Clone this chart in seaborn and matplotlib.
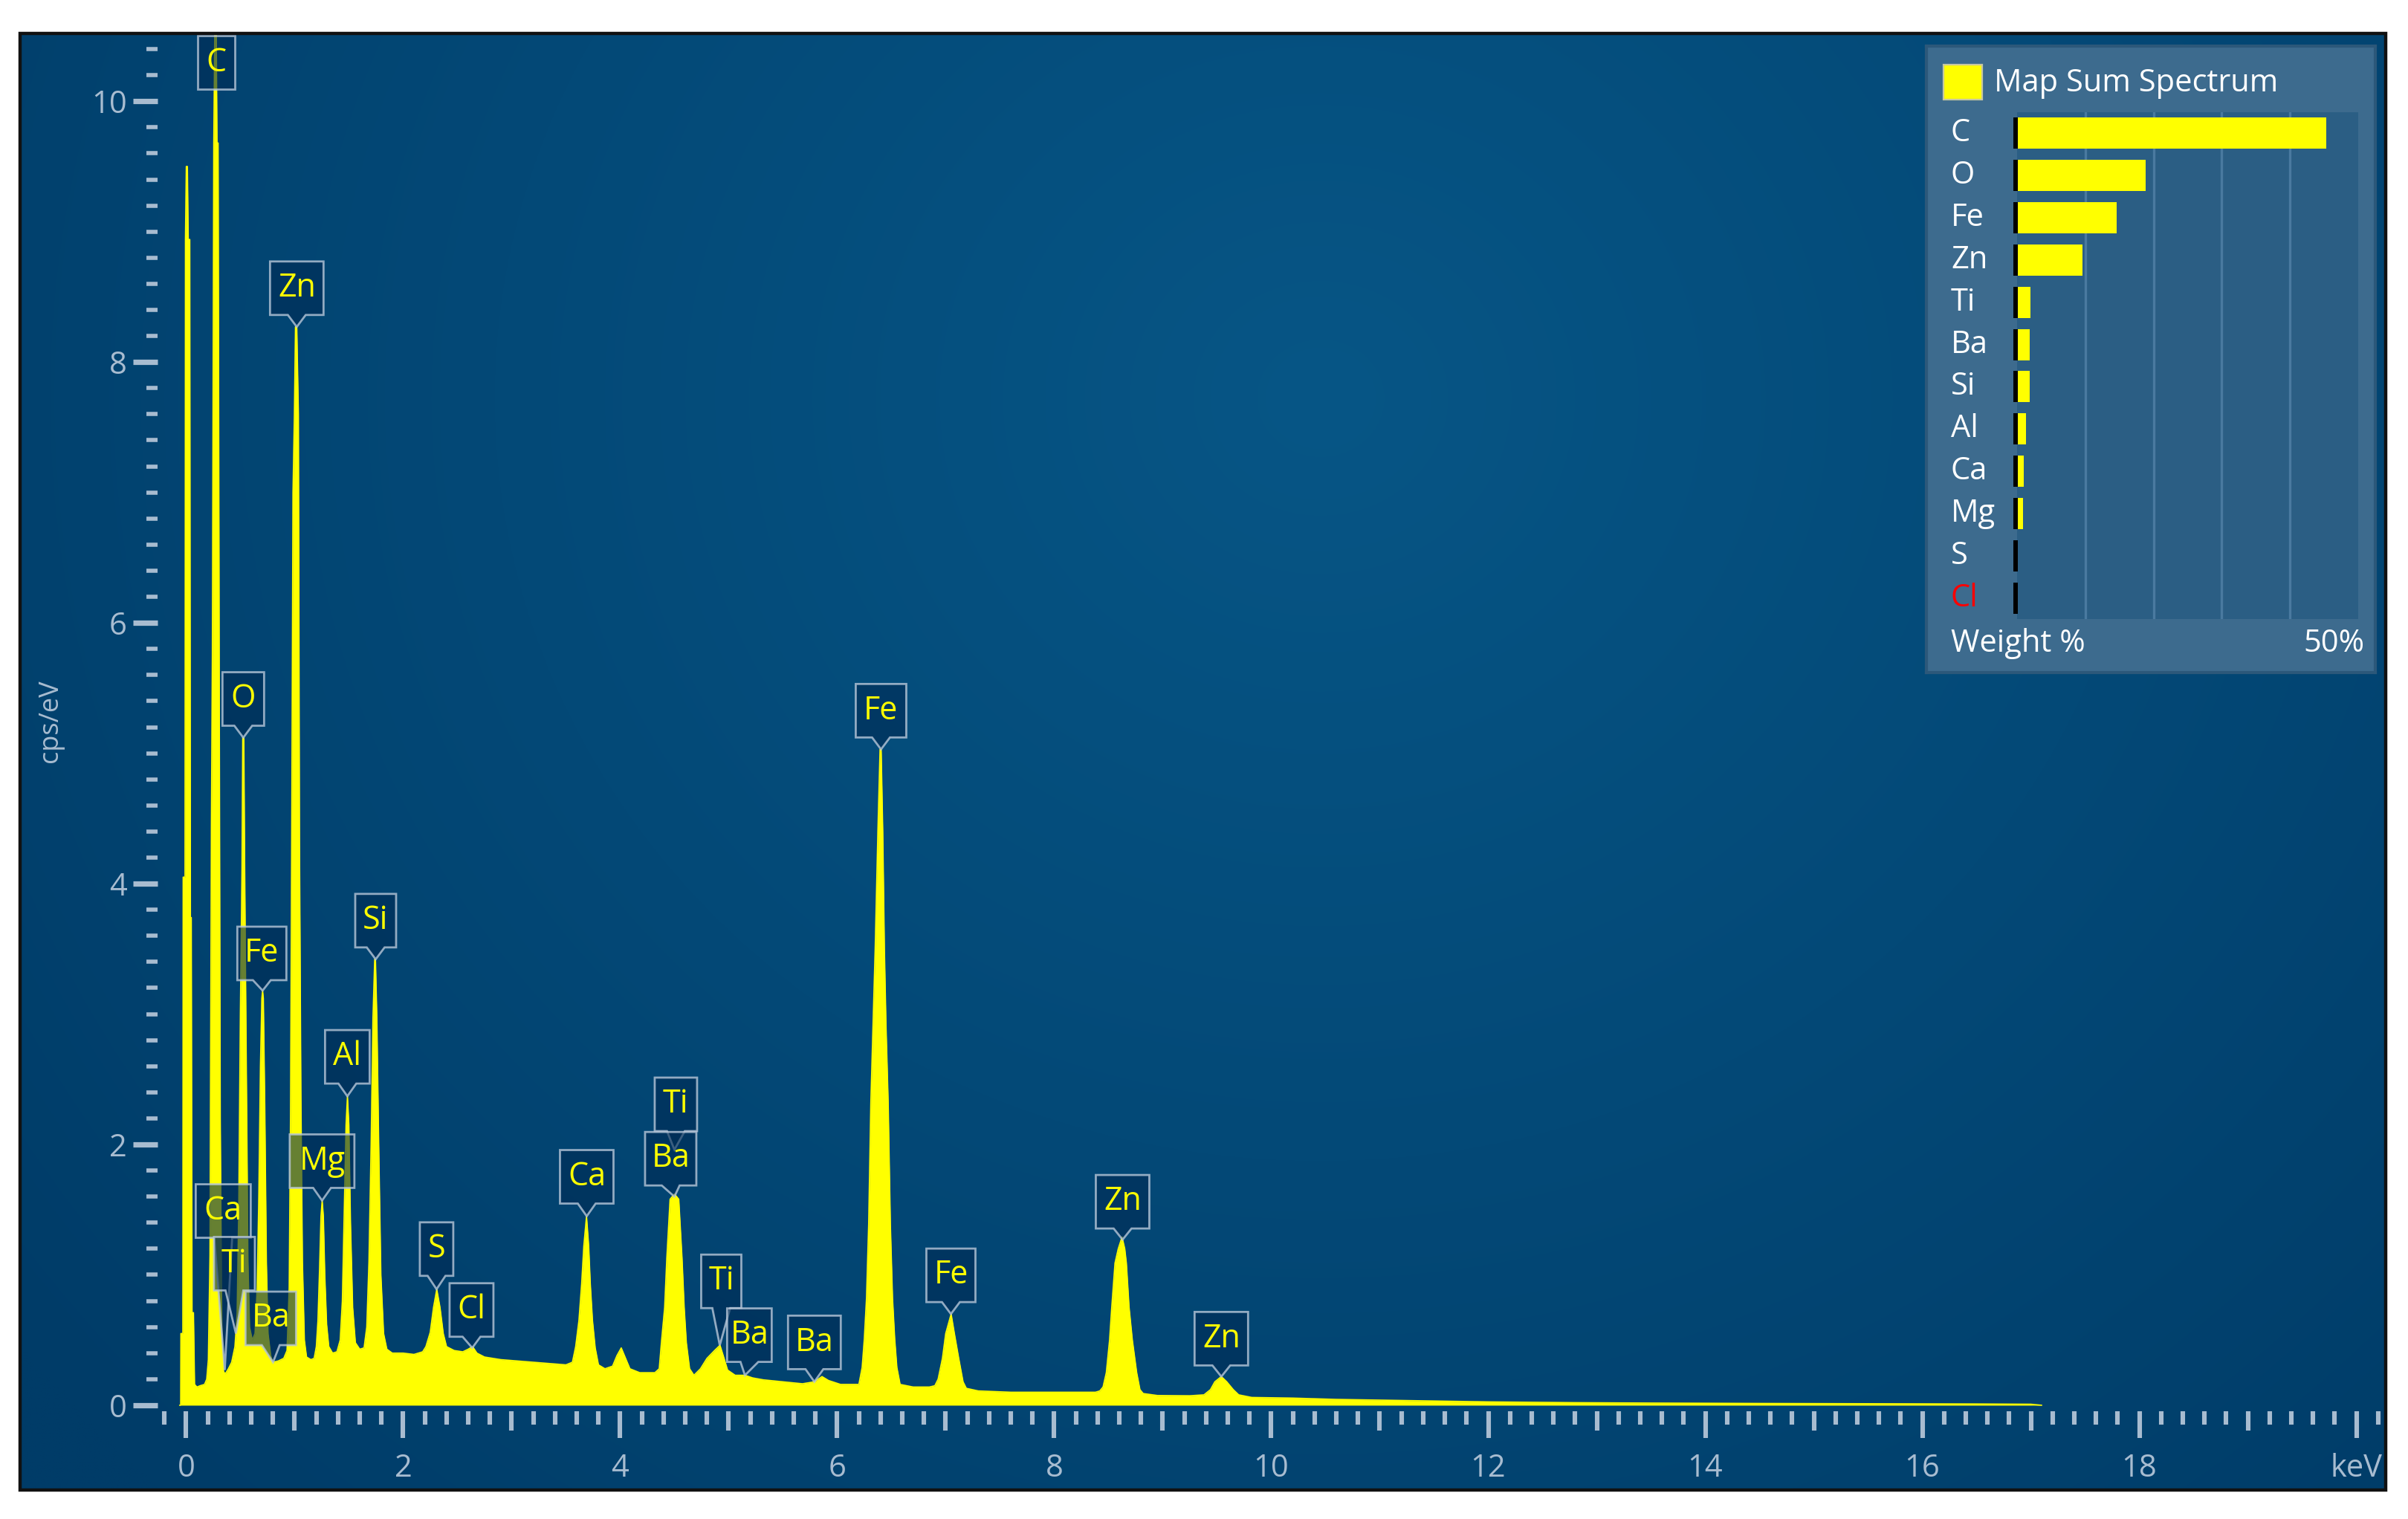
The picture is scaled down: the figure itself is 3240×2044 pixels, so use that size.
import numpy as np
import pandas as pd
import matplotlib
matplotlib.use("Agg")
import matplotlib.pyplot as plt
import matplotlib.transforms as mtransforms
from matplotlib.patches import Polygon, Rectangle
import seaborn as sns

DPI = 200

# EDS spectrum outline (keV, cps/eV)
spec_kev = [
    -0.06, -0.05, -0.048, -0.03, -0.027, -0.01, -0.006, 0.002, 0.012, 0.02, 0.034, 0.04, 0.048, 0.055, 0.068, 0.078,
    0.10, 0.13, 0.17, 0.19, 0.205, 0.22, 0.233, 0.242, 0.255, 0.268, 0.275, 0.285, 0.295, 0.305, 0.315, 0.33, 0.345,
    0.36, 0.39, 0.42, 0.45, 0.47, 0.485, 0.50, 0.515, 0.522, 0.532, 0.54, 0.555, 0.57, 0.585,
    0.61, 0.635, 0.655, 0.67, 0.685, 0.698, 0.705, 0.712, 0.725, 0.74, 0.755,
    0.78, 0.80, 0.85, 0.90, 0.93, 0.95, 0.962, 0.973, 0.985, 0.998, 1.008, 1.02, 1.035, 1.045, 1.058, 1.072, 1.09, 1.11,
    1.15, 1.18, 1.20, 1.215, 1.23, 1.243, 1.254, 1.265, 1.278, 1.295, 1.315,
    1.35, 1.39, 1.42, 1.44, 1.458, 1.474, 1.487, 1.50, 1.515, 1.535, 1.56,
    1.60, 1.64, 1.665, 1.685, 1.705, 1.722, 1.738, 1.745, 1.758, 1.775, 1.795, 1.82, 1.85,
    1.90, 2.00, 2.10, 2.18, 2.21, 2.25, 2.28, 2.31, 2.34, 2.37, 2.40, 2.47, 2.55, 2.60, 2.64, 2.68,
    2.75, 2.90, 3.05, 3.20, 3.35, 3.50, 3.56, 3.59, 3.62, 3.645, 3.665, 3.69, 3.71, 3.725, 3.745, 3.77, 3.80,
    3.86, 3.93, 3.97, 4.01, 4.05, 4.09, 4.18, 4.32, 4.36, 4.38, 4.41, 4.43, 4.46, 4.50, 4.54, 4.57, 4.59, 4.61, 4.64,
    4.68, 4.74, 4.80, 4.87, 4.92, 4.95, 4.99, 5.06, 5.15, 5.22, 5.32, 5.50, 5.68, 5.79, 5.86, 5.92, 6.03, 6.20,
    6.23, 6.25, 6.27, 6.29, 6.31, 6.33, 6.35, 6.375, 6.395, 6.405, 6.42, 6.435, 6.45, 6.47, 6.49, 6.51, 6.53, 6.55, 6.58,
    6.70, 6.85, 6.90, 6.93, 6.97, 7.00, 7.05, 7.08, 7.12, 7.16, 7.19,
    7.30, 7.60, 7.90, 8.20, 8.38, 8.42, 8.45, 8.48, 8.51, 8.53, 8.56, 8.59, 8.625, 8.65, 8.665, 8.69, 8.72, 8.76, 8.79, 8.82,
    8.95, 9.25, 9.38, 9.44, 9.48, 9.54, 9.59, 9.65, 9.70, 9.82, 10.2, 10.6, 11.1, 12.0, 12.8, 13.5, 14.5, 15.5, 16.5, 17.0, 17.1,
]
spec_cps = [
    0.0, 0.0, 0.55, 0.55, 4.05, 4.05, 8.94, 9.5, 9.5, 8.94, 8.94, 3.74, 3.74, 0.71, 0.71, 0.16,
    0.14, 0.15, 0.16, 0.20, 0.35, 1.15, 4.43, 5.76, 9.68, 10.9, 10.9, 9.68, 9.68, 5.76, 2.2, 0.5, 0.26,
    0.24, 0.28, 0.33, 0.45, 0.7, 1.5, 3.0, 4.11, 5.12, 5.12, 4.11, 2.6, 1.1, 0.6,
    0.5, 0.55, 0.9, 1.6, 2.6, 3.12, 3.18, 3.12, 2.3, 1.1, 0.55,
    0.38, 0.33, 0.34, 0.36, 0.42, 0.9, 2.2, 4.32, 7.0, 7.6, 8.27, 8.27, 7.6, 4.32, 2.4, 1.1, 0.5, 0.37,
    0.35, 0.36, 0.45, 0.65, 1.05, 1.45, 1.57, 1.45, 1.0, 0.62, 0.45,
    0.40, 0.41, 0.5, 0.8, 1.5, 2.15, 2.37, 2.15, 1.4, 0.75, 0.48,
    0.43, 0.44, 0.6, 1.1, 2.0, 2.97, 3.42, 3.42, 2.97, 2.0, 1.0, 0.55, 0.43,
    0.40, 0.40, 0.39, 0.41, 0.45, 0.56, 0.75, 0.89, 0.75, 0.55, 0.45, 0.42, 0.41, 0.43, 0.45, 0.40,
    0.37, 0.35, 0.34, 0.33, 0.32, 0.31, 0.33, 0.45, 0.65, 0.93, 1.22, 1.45, 1.22, 0.93, 0.65, 0.44, 0.31,
    0.28, 0.30, 0.38, 0.44, 0.36, 0.28, 0.25, 0.25, 0.28, 0.48, 0.75, 1.13, 1.58, 1.62, 1.58, 1.13, 0.75, 0.48, 0.28,
    0.23, 0.28, 0.36, 0.42, 0.46, 0.38, 0.27, 0.23, 0.23, 0.21, 0.195, 0.18, 0.165, 0.18, 0.22, 0.19, 0.16, 0.16,
    0.29, 0.51, 0.82, 1.39, 2.32, 2.91, 3.5, 4.40, 5.03, 5.03, 4.40, 3.50, 2.91, 2.32, 1.39, 0.82, 0.51, 0.29, 0.16,
    0.14, 0.14, 0.15, 0.20, 0.36, 0.55, 0.70, 0.55, 0.36, 0.18, 0.13,
    0.11, 0.10, 0.10, 0.10, 0.10, 0.11, 0.14, 0.25, 0.50, 0.75, 1.09, 1.20, 1.29, 1.20, 1.09, 0.75, 0.50, 0.25, 0.12, 0.09,
    0.075, 0.073, 0.08, 0.12, 0.18, 0.22, 0.18, 0.12, 0.08, 0.06, 0.055, 0.045, 0.038, 0.026, 0.02, 0.017, 0.014, 0.012, 0.01, 0.008, 0.0,
]

# peak labels: element, pointer tip (keV, cps/eV)
label_text = ["C", "Zn", "O", "Fe", "Si", "Al", "Mg", "Ca", "Ti", "Ba", "S", "Cl",
              "Ca", "Ti", "Ba", "Ti", "Ba", "Ba", "Fe", "Fe", "Zn", "Zn"]
label_kev = [0.28, 1.02, 0.527, 0.705, 1.747, 1.486, 1.253, 0.356, 0.459, 0.801, 2.308, 2.637,
             3.692, 4.50, 4.50, 4.918, 5.15, 5.79, 6.404, 7.048, 8.63, 9.54]
label_cps = [10.09, 8.27, 5.12, 3.18, 3.42, 2.37, 1.57, 0.27, 0.55, 0.33, 0.89, 0.44,
             1.45, 1.96, 1.60, 0.46, 0.23, 0.18, 5.03, 0.70, 1.27, 0.22]
# callout layout in pixels: box centre offset, gap tip->box, box width
label_dx = [0, 0, 0, -1, 0, 0, 0, -2, -2, -3, 0, -1, 0, 2, -5, 2, 6, 0, 0, 0, 0, 0]
label_gap = [0, 16, 16, 14, 16, 17, 17, 178, 58, 23, 18, 15, 17, 25, 15, 50, 18, 17, 16, 16, 15, 15]
label_w = [50, 72, 56, 66, 55, 60, 87, 74, 55, 68, 45, 59, 72, 57, 69, 54, 60, 71, 68, 66, 72, 72]

# weight % panel
wt_elements = ["C", "O", "Fe", "Zn", "Ti", "Ba", "Si", "Al", "Ca", "Mg", "S", "Cl"]
wt_percent = [45.3, 18.8, 14.6, 9.6, 2.0, 1.8, 1.8, 1.3, 1.0, 0.9, 0.1, 0.0]

x_major = list(range(0, 21))
x_labels = [str(v) if v % 2 == 0 else "" for v in x_major]
x_labels[-1] = "keV"
y_major = [0, 2, 4, 6, 8, 10]

sns.set_theme(style="white")
plt.rcParams["font.family"] = ["Open Sans", "DejaVu Sans"]

W, H = 3241, 2044
fig = plt.figure(figsize=(W / DPI, H / DPI), dpi=DPI)
fig.patch.set_facecolor("white")
ax = fig.add_axes([27 / W, 39 / H, 3183 / W, 1960 / H])

# dark blue radial background
gy, gx = np.mgrid[0:1:300j, 0:1:400j]
r = np.sqrt(((gx - 0.55) * 1.5) ** 2 + (gy - 0.75) ** 2)
t = np.clip(r / 1.05, 0, 1)[..., None]
c0 = np.array([7, 86, 134]) / 255
c1 = np.array([0, 60, 104]) / 255
ax.imshow(c0 * (1 - t) + c1 * t, extent=[0, 1, 0, 1], transform=ax.transAxes,
          origin="lower", aspect="auto", zorder=0, interpolation="bilinear")

spec = pd.DataFrame({"keV": spec_kev, "cps": spec_cps})
ax.fill_between(spec["keV"], spec["cps"], 0, color="#ffff00", lw=0, zorder=3)
sns.lineplot(data=spec, x="keV", y="cps", ax=ax, color="#ffff00", lw=0.6,
             estimator=None, sort=False, zorder=3)

ax.set_xlim(-1.53, 20.27)
ax.set_ylim(-0.65, 10.52)
ax.set_xlabel("")
ax.set_ylabel("")

tickc = "#a8bcd0"
for s in ["top", "right"]:
    ax.spines[s].set_visible(False)
ax.spines["left"].set_position(("data", -0.26))
ax.spines["bottom"].set_position(("data", -0.046))
ax.spines["left"].set_color("none")
ax.spines["bottom"].set_color("none")

ax.set_xticks(x_major, x_labels)
ax.set_xticks(np.round(np.arange(-0.2, 20.3, 0.2), 1), minor=True)
ax.set_yticks(y_major, [str(v) for v in y_major])
ax.set_yticks(np.round(np.arange(0.2, 10.5, 0.2), 1), minor=True)
ax.tick_params(axis="both", which="both", bottom=True, left=True, top=False, right=False)
ax.tick_params(axis="x", which="major", direction="out", length=13, width=2.2,
               color=tickc, labelcolor=tickc, labelsize=15, pad=7)
ax.tick_params(axis="x", which="minor", direction="out", length=6.5, width=2.2, color=tickc)
ax.tick_params(axis="y", which="major", direction="out", length=12, width=2.6,
               color=tickc, labelcolor=tickc, labelsize=15, pad=3)
ax.tick_params(axis="y", which="minor", direction="out", length=5.5, width=2.0, color=tickc)
for v, tick in zip(x_major, ax.xaxis.get_major_ticks()):
    if v % 2:
        tick.tick1line.set_markersize(9.4)

ax.text(-1.25, 5.25, "cps/eV", rotation=90, color=tickc, fontsize=13,
        ha="center", va="center")

# outer frame
ax.add_patch(Rectangle((0, 0), 1, 1, transform=ax.transAxes, fill=False,
                       ec="#111111", lw=1.6, clip_on=False, zorder=10))

# peak callouts
box_h = 72
notch = 12
for name, xk, yc, dx, gap, w in zip(label_text, label_kev, label_cps, label_dx, label_gap, label_w):
    trans = fig.dpi_scale_trans + mtransforms.ScaledTranslation(xk, yc, ax.transData)
    bot, top = gap, gap + box_h
    verts = [(dx - w / 2, top), (dx + w / 2, top), (dx + w / 2, bot)]
    if gap > 0:
        verts += [(dx + notch, bot), (0, 0), (dx - notch, bot)]
    verts += [(dx - w / 2, bot)]
    verts = [(a / DPI, b / DPI) for a, b in verts]
    ax.add_patch(Polygon(verts, closed=True, transform=trans,
                         fc=(0.0, 0.17, 0.33, 0.6), ec=(0.72, 0.78, 0.85, 0.8),
                         lw=1.0, zorder=5))
    ax.text(dx / DPI, (gap + box_h / 2) / DPI, name, transform=trans,
            ha="center", va="center", color="#ffff00", fontsize=15.5, zorder=6)

# weight % panel
pax = fig.add_axes([2592 / W, 1 - 905 / H, 604 / W, 843 / H])
pax.set_facecolor("#3d6b8e")
pax.set_xticks([])
pax.set_yticks([])
for s in pax.spines.values():
    s.set_color("#2c587a")
    s.set_linewidth(1.5)

bax = fig.add_axes([2714 / W, 1 - 833 / H, 459 / W, 682 / H])
bax.set_facecolor("#2b5e84")
wdf = pd.DataFrame({"element": wt_elements, "weight": wt_percent})
sns.barplot(data=wdf, x="weight", y="element", orient="h", color="#ffff00",
            saturation=1, width=0.74, ax=bax, zorder=3, linewidth=0)
for v in [10, 20, 30, 40]:
    bax.axvline(v, color="#4a7aa0", lw=1.2, zorder=1)
bax.barh(range(len(wt_elements)), 0.65, left=-0.5, height=0.74, color="black",
         lw=0, edgecolor="none", zorder=4, clip_on=False)
bax.set_xlim(0, 50)
bax.set_ylim(len(wt_elements) - 0.5, -0.5)
bax.set_xticks([])
bax.set_yticks([])
bax.set_xlabel("")
bax.set_ylabel("")
for s in bax.spines.values():
    s.set_visible(False)
blend = mtransforms.blended_transform_factory(bax.transAxes, bax.transData)
for i, el in enumerate(wt_elements):
    bax.text(-0.194, i, el, transform=blend, ha="left", va="center", fontsize=15,
             color="#ff0000" if el == "Cl" else "white")

fig.add_artist(Rectangle((2615 / W, 1 - 134 / H), 52 / W, 47 / H, transform=fig.transFigure,
                         fc="#ffff00", ec="#c8c8a0", lw=0.8))
fig.text(2683 / W, 1 - 112 / H, "Map Sum Spectrum", color="white", fontsize=15,
         ha="left", va="center")
fig.text(2625 / W, 1 - 866 / H, "Weight %", color="white", fontsize=15,
         ha="left", va="center")
fig.text(3182 / W, 1 - 866 / H, "50%", color="white", fontsize=15,
         ha="right", va="center")

fig.savefig("out.png", dpi=DPI)
